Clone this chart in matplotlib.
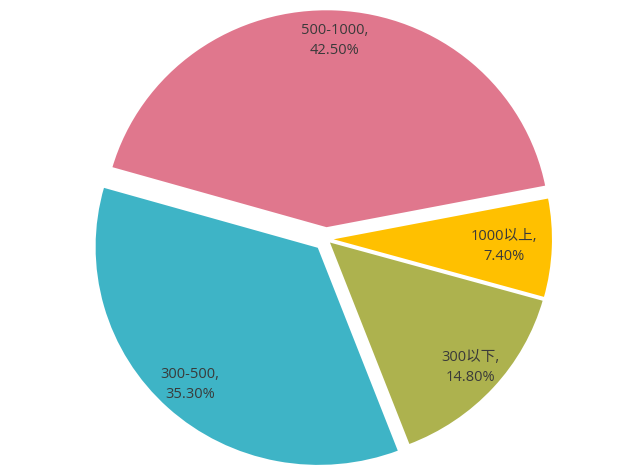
# Income band share pie chart

import numpy as np
import matplotlib.pyplot as plt

plt.rcParams['font.family'] = ['Open Sans', 'Noto Sans CJK SC', 'DejaVu Sans']

categories = ["500-1000", "1000以上", "300以下", "300-500"]
shares = [42.50, 7.40, 14.80, 35.30]
colors = ["#E0778D", "#FFC000", "#ADB24E", "#3EB4C6"]
# explode offsets in x-pixel units
explode = [11, 3, 3, 11]
# label distance from wedge tip, as fraction of radius
label_dist = [0.86, 0.78, 0.86, 0.85]

labels = [f"{c},\n{v:.2f}%" for c, v in zip(categories, shares)]

# the reference pie is slightly wider than tall
rx, ry = 224, 219
k = rx / ry

fig = plt.figure(figsize=(6.4, 4.76), dpi=100)
ax = fig.add_axes([0, 0, 1, 1])

wedges, texts = ax.pie(shares, labels=labels, colors=colors, explode=explode,
                       startangle=164, counterclock=False,
                       center=(326, (476 - 239) * k), radius=rx, frame=True,
                       wedgeprops=dict(edgecolor="white", linewidth=1.5),
                       textprops=dict(fontsize=10.5, color="#3a3a3a"))
for w, t, d in zip(wedges, texts, label_dist):
    ang = np.deg2rad((w.theta1 + w.theta2) / 2)
    cx, cy = w.center
    t.set_position((cx + d * w.r * np.cos(ang), cy + d * w.r * np.sin(ang)))
    t.set_ha("center")
    t.set_va("center")
    t.set_multialignment("center")
    t.set_linespacing(1.45)

ax.set_aspect("auto")
ax.set_xlim(0, 640)
ax.set_ylim(0, 476 * k)
ax.axis("off")

plt.savefig("out.png", dpi=100)
